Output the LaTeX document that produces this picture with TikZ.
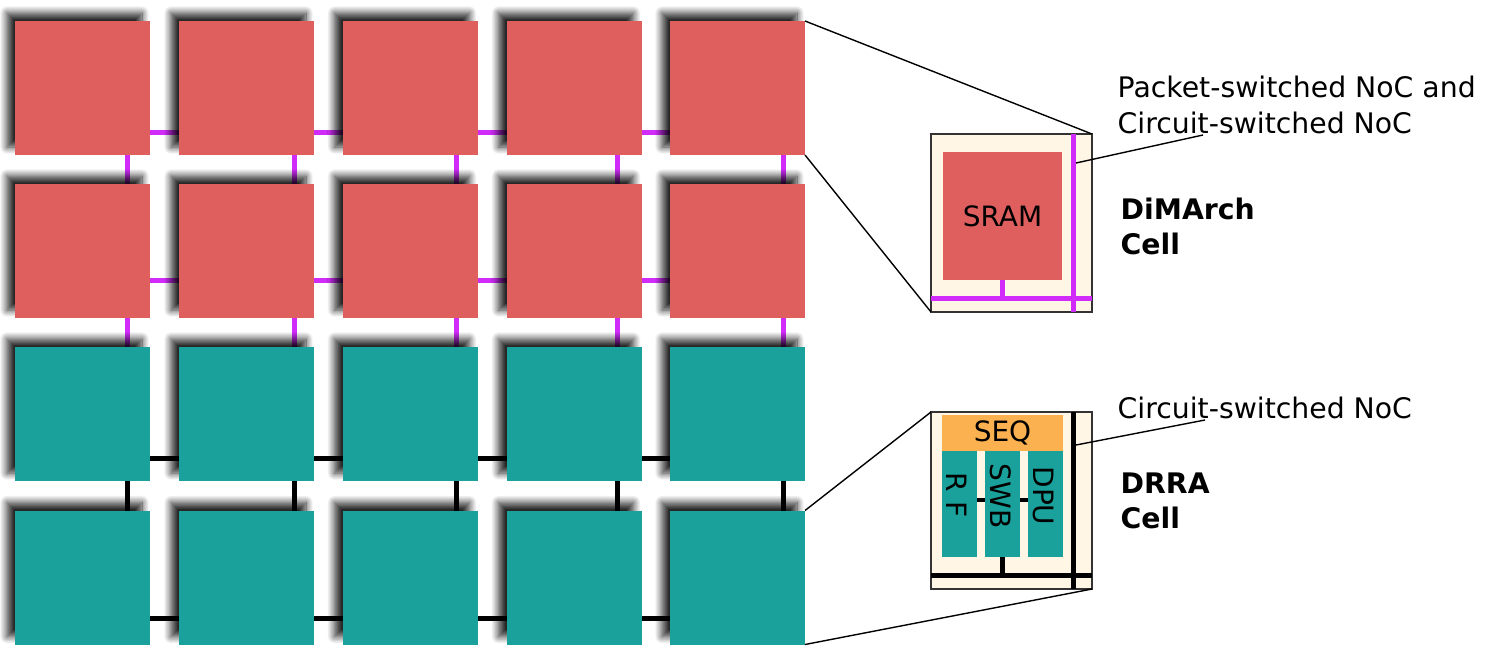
\documentclass[tikz,border=0pt]{standalone}
\usepackage{fontspec}
\setmainfont{DejaVu Sans}
\usetikzlibrary{shadows.blur,backgrounds}
\definecolor{tilered}{HTML}{DF5E5E}
\definecolor{tileteal}{HTML}{1AA19C}
\definecolor{nocpurple}{HTML}{D12BFA}
\definecolor{cellbg}{HTML}{FFF6E6}
\definecolor{seqorange}{HTML}{FBB150}
\definecolor{edgegray}{HTML}{333333}
\begin{document}
\begin{tikzpicture}[x=1pt,y=-1pt,
  tile/.style={minimum width=135pt,minimum height=134pt,inner sep=0pt,outer sep=0pt,
    blur shadow={shadow xshift=-8pt,shadow yshift=8pt,shadow blur radius=7pt,shadow opacity=85,shadow blur steps=12}},
  noc/.style={line width=5pt},
  zoomline/.style={draw=black,line width=1.4pt},
  cellbox/.style={draw=edgegray,line width=1.5pt,fill=cellbg,inner sep=0pt,outer sep=0pt,minimum width=161pt},
  txt/.style={font=\fontsize{28.3}{36}\selectfont,inner sep=0pt},
  btxt/.style={font=\fontsize{28.3}{35}\selectfont\bfseries,inner sep=0pt},
  block/.style={inner sep=0pt,outer sep=0pt,font=\fontsize{28}{36}\selectfont},
  coltext/.style={font=\fontsize{28}{36}\selectfont,inner sep=0pt,rotate=-90}
]
\useasboundingbox (0,0) rectangle (1485,664);

% grid tiles
\foreach \r/\y/\col in {1/88/tilered,2/251/tilered,3/414/tileteal,4/577.5/tileteal}
  \foreach \c/\x in {1/82.5,2/246.5,3/410,4/574,5/737.5}
    \node[tile,fill=\col] (t\r\c) at (\x,\y) {};

% connector guides
\coordinate (h1) at (0,132);
\coordinate (h2) at (0,280);
\coordinate (h3) at (0,458);
\coordinate (h4) at (0,618);
\coordinate (v1) at (127,0);
\coordinate (v2) at (294,0);
\coordinate (v3) at (456,0);
\coordinate (v4) at (617,0);
\coordinate (v5) at (783,0);

\begin{pgfonlayer}{background}
  \foreach \r/\col in {1/nocpurple,2/nocpurple,3/black,4/black}
    \foreach \c/\n in {1/2,2/3,3/4,4/5}
      \draw[noc,draw=\col] (t\r\c.east |- h\r) -- (t\r\n.west |- h\r);
  \foreach \r/\s/\col in {1/2/nocpurple,2/3/nocpurple,3/4/black}
    \foreach \c in {1,...,5}
      \draw[noc,draw=\col] (t\r\c.south -| v\c) -- (t\s\c.north -| v\c);
\end{pgfonlayer}

% DiMArch cell
\node[cellbox,minimum height=178pt] (dim) at (1011.5,223) {};
\node[block,fill=tilered,minimum width=119pt,minimum height=128pt] (sram) at (1002.5,216) {SRAM};
\coordinate (dv) at (1073,0);
\coordinate (dh) at (0,298);
\draw[noc,draw=nocpurple] (dim.north -| dv) -- (dim.south -| dv);
\draw[noc,draw=nocpurple] (dim.west |- dh) -- (dim.east |- dh);
\draw[noc,draw=nocpurple] (sram.south) -- (sram.south |- dh);

% DRRA cell
\node[cellbox,minimum height=177pt] (drra) at (1011.5,500.5) {};
\node[block,fill=seqorange,minimum width=121pt,minimum height=36pt] (seq) at (1002.5,433) {SEQ};
\node[block,fill=tileteal,minimum width=35pt,minimum height=106pt] (rf) at (959.5,504) {};
\node[block,fill=tileteal,minimum width=35pt,minimum height=106pt] (swb) at (1002.5,504) {};
\node[block,fill=tileteal,minimum width=35pt,minimum height=106pt] (dpu) at (1045.5,504) {};
\node[coltext] (rft) at ([shift={(-3,-9)}]rf.center) {R F};
\node[coltext] (swbt) at ([shift={(-2,-8)}]swb.center) {SWB};
\node[coltext] (dput) at ([shift={(-2,-8)}]dpu.center) {DPU};
\coordinate (ty) at (0,500);
\draw[noc,line width=4pt] (rf.east |- ty) -- (swb.west |- ty);
\draw[noc,line width=4pt] (swb.east |- ty) -- (dpu.west |- ty);
\coordinate (rv) at (1073,0);
\coordinate (rh) at (0,575);
\draw[noc] (drra.west |- rh) -- (drra.east |- rh);
\draw[noc] (drra.north -| rv) -- (drra.south -| rv);
\draw[noc] (swb.south) -- (swb.south |- rh);

% zoom lines
\draw[zoomline] (t15.north east) -- (dim.north east);
\draw[zoomline] (t15.south east) -- (dim.south west);
\draw[zoomline] (t45.north east) -- (drra.north west);
\draw[zoomline] (t45.south east) -- (drra.south east);

% labels
\node[txt,anchor=north west,align=left] (ptext) at (1117.5,75.5) {Packet-switched NoC and\\Circuit-switched NoC};
\coordinate (pa) at (1076,163);
\coordinate (pb) at (1203,135);
\draw[zoomline] (pa) -- (pb);
\node[txt,anchor=base west] (ctext) at (1117.5,418) {Circuit-switched NoC};
\coordinate (ca) at (1076,445);
\coordinate (cb) at (1205,420);
\draw[zoomline] (ca) -- (cb);
\node[btxt,anchor=north west,align=left] (dimlab) at (1120.5,197.5) {DiMArch\\Cell};
\node[btxt,anchor=north west,align=left] (drralab) at (1120.5,472.4) {DRRA\\Cell};
\end{tikzpicture}
\end{document}
